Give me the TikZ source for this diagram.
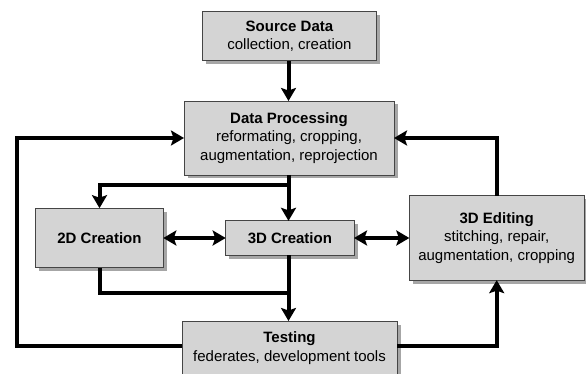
\documentclass[tikz,border=0pt]{standalone}
\usepackage{fontspec}
\setmainfont{Liberation Sans}
\usetikzlibrary{arrows.meta,shadows}
\definecolor{boxfill}{HTML}{D4D4D4}
\definecolor{boxline}{HTML}{454545}
\definecolor{boxshadow}{HTML}{A6A6A6}
\tikzset{
  procbox/.style={draw=boxline, line width=0.9pt, fill=boxfill, align=center,
    inner sep=0pt, outer sep=0pt,
    font=\fontsize{15}{18.3}\selectfont,
    general shadow={fill=boxshadow, shadow xshift=3.5pt, shadow yshift=-3.5pt}},
  conn/.style={line width=4pt, draw=black},
  arr/.style={conn, -{Stealth[length=13pt, width=15pt, inset=2.5pt]}},
  arrboth/.style={conn, {Stealth[length=13pt, width=15pt, inset=2.5pt]}-{Stealth[length=13pt, width=15pt, inset=2.5pt]}}
}
\begin{document}
\begin{tikzpicture}[x=1pt,y=-1pt]
\useasboundingbox (0,0) rectangle (586,374);
\fill[white] (0,0) rectangle (586,374);

\node[procbox, minimum width=174.4pt, minimum height=49.7pt] (src) at (289.5,36)
  {\textbf{Source Data}\\collection, creation};
\node[procbox, minimum width=210pt, minimum height=74pt] (dp) at (289,138)
  {\textbf{Data Processing}\\reformating, cropping,\\augmentation, reprojection};
\node[procbox, minimum width=127.6pt, minimum height=59.6pt] (c2d) at (99.5,238)
  {\textbf{2D Creation}};
\node[procbox, minimum width=128.3pt, minimum height=34.3pt] (c3d) at (289.85,238)
  {\textbf{3D Creation}};
\node[procbox, minimum width=174.7pt, minimum height=84.3pt] (edit) at (496.7,238)
  {\textbf{3D Editing}\\stitching, repair,\\augmentation, cropping};
\node[procbox, minimum width=215pt, minimum height=54pt] (test) at (289.5,348)
  {\textbf{Testing}\\federates, development tools};

\coordinate (sx) at (288.5,0);
\coordinate (b1) at (290.5,185);
\coordinate (b2) at (290.5,293);
\coordinate (lx) at (16.7,240);
\coordinate (tl) at (182,346);
\coordinate (tr) at (397,346);

\draw[arr] (src.south -| sx) -- (dp.north -| sx);
\draw[arr] (dp.south -| sx) -- (c3d.north -| sx);
\draw[arr] (b1) -| (c2d.north);
\draw[conn] (c2d.south) |- (b2);
\draw[arr] (c3d.south -| sx) -- (test.north -| sx);
\draw[arrboth] (c2d.east) -- (c3d.west);
\draw[arrboth] (c3d.east) -- (edit.west);
\draw[arr] (tl) -| (lx) |- (dp.west);
\draw[arr] (tr) -| (edit.south);
\draw[arr] (edit.north) |- (dp.east);
\end{tikzpicture}
\end{document}
